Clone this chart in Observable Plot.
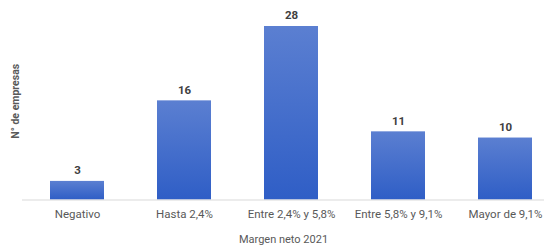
<!DOCTYPE html>
<html>
<head>
<meta charset="utf-8">
<script src="https://cdn.jsdelivr.net/npm/d3@7"></script>
<script src="https://cdn.jsdelivr.net/npm/@observablehq/plot@0.6"></script>
<style>
  html, body { margin: 0; padding: 0; background: #fff; }
  svg { font-family: "Liberation Sans Narrow", "Roboto", "Liberation Sans", sans-serif; }
</style>
</head>
<body>
<div id="chart"></div>
<script>
const categories = ["Negativo", "Hasta 2,4%", "Entre 2,4% y 5,8%", "Entre 5,8% y 9,1%", "Mayor de 9,1%"];
const counts = [3, 16, 28, 11, 10];
const xTitle = "Margen neto 2021";
const yTitle = "N° de empresas";

const data = categories.map((c, i) => ({category: c, value: counts[i]}));

const chart = Plot.plot({
  width: 544,
  height: 252,
  marginLeft: 22,
  marginRight: 0,
  marginTop: 26,
  marginBottom: 52.5,
  style: {fontFamily: '"Liberation Sans Narrow", "Roboto", "Liberation Sans", sans-serif', background: "#fff"},
  x: {domain: categories, paddingInner: 0.494, paddingOuter: 0.17, align: 0.7, label: null},
  y: {domain: [0, 28], axis: null},
  marks: [
    Plot.barY(data, {x: "category", y: "value", fill: "url(#barGrad)"}),
    Plot.ruleY([0], {stroke: "#d9d9d9", strokeWidth: 1}),
    Plot.text(data, {x: "category", y: "value", text: d => String(d.value), dy: -11, fontSize: 11.5, fontWeight: "bold", fill: "#404040", letterSpacing: "-0.3px"}),
    Plot.axisX({tickSize: 0, tickPadding: 10, fontSize: 11.5, color: "#595959", label: null, letterSpacing: "-0.45px"}),
    Plot.text([xTitle], {frameAnchor: "bottom", dy: 43, fontSize: 11, fill: "#595959", letterSpacing: "-0.3px"}),
    Plot.text([yTitle], {frameAnchor: "left", textAnchor: "middle", rotate: -90, dx: -7, dy: -12, fontSize: 10.5, fontWeight: "bold", fill: "#595959", letterSpacing: "0.2px"})
  ]
});

const svg = d3.select(chart);
const defs = svg.insert("defs", ":first-child");
const grad = defs.append("linearGradient").attr("id", "barGrad").attr("x1", 0).attr("y1", 0).attr("x2", 0).attr("y2", 1);
grad.append("stop").attr("offset", "0%").attr("stop-color", "#5b7fd1");
grad.append("stop").attr("offset", "100%").attr("stop-color", "#2f5ec6");

document.getElementById("chart").appendChild(chart);
</script>
</body>
</html>
